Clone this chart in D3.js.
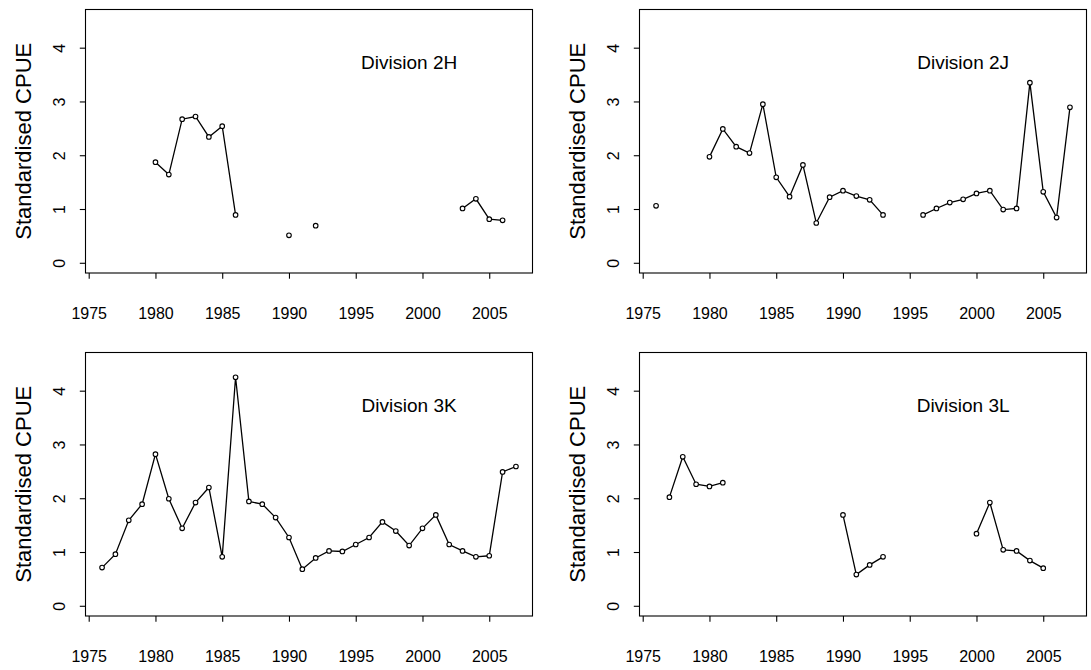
<!DOCTYPE html>
<html>
<head>
<meta charset="utf-8">
<script src="https://cdn.jsdelivr.net/npm/d3@7/dist/d3.min.js"></script>
<style>
  html, body { margin: 0; padding: 0; background: #fff; }
  svg { display: block; }
  text { font-family: "Liberation Sans", Arial, Helvetica, sans-serif; fill: #000; }
</style>
</head>
<body>
<svg id="chart" width="1091" height="670"></svg>
<script>
// ---- data ----
const years = [1976,1977,1978,1979,1980,1981,1982,1983,1984,1985,1986,1987,1988,1989,1990,1991,
               1992,1993,1994,1995,1996,1997,1998,1999,2000,2001,2002,2003,2004,2005,2006,2007];

const div2H = [null,null,null,null,1.87,1.64,2.67,2.72,2.34,2.54,0.89,null,null,null,0.51,null,
               0.69,null,null,null,null,null,null,null,null,null,null,1.01,1.19,0.81,0.79,null];

const div2J = [1.06,null,null,null,1.97,2.49,2.16,2.04,2.95,1.59,1.23,1.82,0.74,1.22,1.34,1.24,
               1.17,0.89,null,null,0.89,1.01,1.12,1.18,1.29,1.34,0.99,1.01,3.35,1.32,0.84,2.89];

const div3K = [0.71,0.96,1.59,1.89,2.82,1.99,1.44,1.92,2.20,0.91,4.25,1.94,1.89,1.64,1.27,0.68,
               0.89,1.02,1.01,1.14,1.27,1.56,1.39,1.12,1.44,1.69,1.14,1.02,0.91,0.93,2.49,2.59];

const div3L = [null,2.02,2.77,2.26,2.22,2.29,null,null,null,null,null,null,null,null,1.69,0.58,
               0.76,0.91,null,null,null,null,null,null,1.34,1.92,1.04,1.02,0.84,0.70,null,null];

const panelTitles = ["Division 2H","Division 2J","Division 3K","Division 3L"];
const panelSeries = [div2H, div2J, div3K, div3L];
const xTicks = [1975,1980,1985,1990,1995,2000,2005];
const yTicks = [0,1,2,3,4];
const yLabel = "Standardised CPUE";
const labelPos = {year: 1999, value: 3.72};

// ---- layout ----
const colLeft = [85.5, 639.5];
const rowTop = [9.5, 352.5];
const pw = 447, ph = 263.5;

const svg = d3.select("#chart");

const x = d3.scaleLinear().domain([1974.76, 2008.24]).range([0, pw]);
const y = d3.scaleLinear().domain([-0.19, 4.71]).range([ph, 0]);

panelSeries.forEach((series, i) => {
  const col = i % 2, row = Math.floor(i / 2);
  const g = svg.append("g")
    .attr("transform", `translate(${colLeft[col]},${rowTop[row]})`);

  // box
  g.append("rect")
    .attr("x", 0).attr("y", 0).attr("width", pw).attr("height", ph)
    .attr("fill", "none").attr("stroke", "#000").attr("stroke-width", 1.1);

  // x axis
  const xa = g.append("g").attr("transform", `translate(0,${ph})`)
    .call(d3.axisBottom(x).tickValues(xTicks).tickFormat(d3.format("d"))
      .tickSize(5.7).tickPadding(28.5));
  xa.select(".domain").remove();
  xa.selectAll("line").attr("stroke", "#000").attr("stroke-width", 1.1);
  xa.selectAll("text").attr("font-size", 16).attr("font-family", null);

  // y axis (labels rotated, R las=0 style)
  const ya = g.append("g")
    .call(d3.axisLeft(y).tickValues(yTicks).tickFormat(d3.format("d")).tickSize(5.7));
  ya.select(".domain").remove();
  ya.selectAll("line").attr("stroke", "#000").attr("stroke-width", 1.1);
  ya.selectAll("text").remove();
  ya.selectAll(".tick").append("text")
    .attr("transform", "translate(-26,0) rotate(-90)")
    .attr("text-anchor", "middle")
    .attr("dominant-baseline", "central")
    .attr("font-size", 16)
    .text(d => d3.format("d")(d));

  // y label
  g.append("text")
    .attr("transform", `translate(-62,${ph / 2}) rotate(-90)`)
    .attr("text-anchor", "middle")
    .attr("dominant-baseline", "central")
    .attr("font-size", 22)
    .text(yLabel);

  const pts = years.map((yr, k) => ({year: yr, value: series[k]}));

  // line
  const line = d3.line()
    .defined(d => d.value != null)
    .x(d => x(d.year)).y(d => y(d.value));
  g.append("path").datum(pts)
    .attr("d", line)
    .attr("fill", "none").attr("stroke", "#000").attr("stroke-width", 1.3);

  // points
  g.selectAll("circle.pt").data(pts.filter(d => d.value != null))
    .join("circle").attr("class", "pt")
    .attr("cx", d => x(d.year)).attr("cy", d => y(d.value))
    .attr("r", 2.3)
    .attr("fill", "#fff").attr("stroke", "#000").attr("stroke-width", 1.1);

  // panel label
  g.append("text")
    .attr("x", x(labelPos.year)).attr("y", y(labelPos.value))
    .attr("text-anchor", "middle")
    .attr("dominant-baseline", "central")
    .attr("font-size", 19)
    .text(panelTitles[i]);
});
</script>
</body>
</html>
